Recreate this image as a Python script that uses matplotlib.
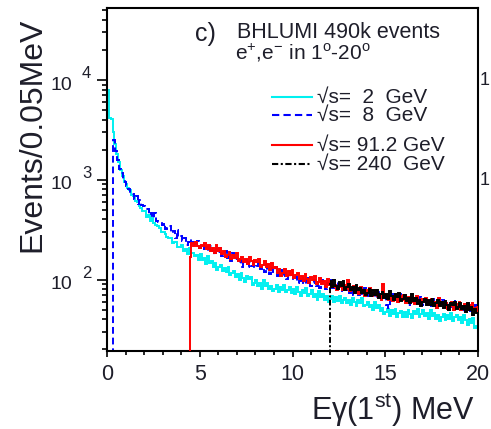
import numpy as np
import matplotlib
matplotlib.use("Agg")
import matplotlib.pyplot as plt
import matplotlib.transforms as mtransforms
from matplotlib.lines import Line2D
from matplotlib.ticker import MultipleLocator, LogLocator, NullFormatter, FixedLocator

plt.rcParams['font.family'] = ['Liberation Sans', 'DejaVu Sans']
plt.rcParams['mathtext.fontset'] = 'custom'
plt.rcParams['mathtext.rm'] = 'Liberation Sans'
plt.rcParams['mathtext.it'] = 'Liberation Sans:italic'
plt.rcParams['mathtext.bf'] = 'Liberation Sans:bold'

# ---------------- data (histograms, 0.1 MeV bins) ----------------
bin_width = 0.1

cyan_start = 0.0   # sqrt(s) = 2 GeV
cyan_counts = [
    7900, 4200, 4100, 3000, 2300, 1800, 1500, 1250, 1080, 960,
    910, 830, 795, 705, 690, 615, 600, 545, 520, 482,
    490, 425, 440, 385, 412, 366, 355, 345, 330, 300,
    300, 285, 265, 262, 258, 232, 240, 236, 212, 214,
    224, 192, 204, 180, 206, 184, 183, 171, 178, 158,
    180, 157, 164, 144, 172, 148, 152, 133, 145, 124,
    132, 140, 121, 130, 119, 133, 111, 117, 122, 105,
    113, 100, 117, 104, 94, 108, 101, 107, 89, 93,
    99, 86, 92, 81, 100, 86, 92, 80, 87, 76,
    81, 88, 75, 85, 78, 88, 75, 79, 85, 73,
    80, 71, 84, 75, 69, 79, 74, 82, 68, 72,
    78, 67, 72, 63, 77, 67, 71, 62, 68, 60,
    64, 69, 60, 67, 61, 69, 58, 62, 66, 58,
    63, 56, 66, 59, 54, 62, 58, 65, 54, 56,
    60, 53, 56, 49, 60, 52, 55, 48, 52, 45,
    47, 51, 43, 49, 45, 51, 42, 46, 48, 42,
    47, 42, 50, 45, 41, 48, 45, 51, 42, 45,
    49, 43, 46, 40, 49, 43, 46, 40, 44, 38,
    42, 45, 39, 44, 40, 46, 38, 42, 44, 39,
    42, 37, 44, 39, 35, 40, 37, 41, 33, 34,
]

blue_start = 0.35  # sqrt(s) = 8 GeV
blue_counts = [
    2500, 1930, 1570, 1290, 1170, 1010, 960, 860, 810, 730,
    720, 640, 680, 575, 620, 560, 545, 510, 515, 445,
    465, 410, 460, 390, 376, 380, 350, 372, 318, 325,
    342, 293, 305, 262, 310, 268, 270, 242, 261, 223,
    238, 254, 215, 238, 217, 242, 205, 216, 228, 197,
    213, 188, 218, 195, 175, 201, 189, 208, 172, 178,
    194, 166, 178, 153, 186, 160, 165, 146, 157, 135,
    146, 157, 135, 150, 138, 156, 130, 138, 146, 127,
    134, 118, 139, 124, 113, 129, 119, 134, 108, 116,
    124, 108, 115, 102, 123, 106, 110, 98, 107, 93,
    97, 105, 90, 100, 91, 104, 87, 93, 98, 87,
    94, 83, 98, 88, 80, 93, 88, 98, 82, 85,
    92, 80, 85, 75, 91, 79, 83, 73, 80, 70,
    76, 82, 70, 79, 72, 82, 69, 74, 77, 68,
    74, 65, 78, 69, 64, 74, 68, 56, 52, 66,
    71, 62, 67, 59, 72, 62, 66, 58, 64, 56,
    61, 66, 57, 64, 59, 67, 56, 60, 64, 56,
    61, 54, 64, 57, 52, 61, 57, 63, 53, 56,
    60, 53, 57, 50, 61, 53, 57, 49, 54, 47,
    52, 56, 48, 54, 49, 55, 47,
]

red_start = 4.45   # sqrt(s) = 91.2 GeV
red_counts = [
    170, 232, 215, 240, 218, 206, 224, 218, 232, 204,
    221, 195, 209, 184, 222, 194, 205, 179, 195, 168,
    175, 189, 162, 178, 165, 184, 154, 162, 170, 150,
    162, 143, 168, 152, 139, 158, 149, 162, 135, 141,
    152, 132, 142, 125, 148, 129, 132, 116, 126, 109,
    116, 126, 108, 121, 110, 124, 104, 112, 117, 101,
    108, 96, 113, 101, 92, 105, 100, 109, 91, 95,
    103, 90, 96, 85, 102, 89, 94, 84, 89, 79,
    84, 91, 78, 88, 81, 100, 76, 81, 86, 76,
    81, 72, 85, 76, 69, 79, 75, 82, 69, 72,
    78, 68, 72, 63, 90, 68, 72, 63, 69, 61,
    65, 71, 60, 68, 62, 70, 58, 63, 67, 59,
    65, 57, 68, 61, 55, 64, 60, 66, 56, 59,
    64, 56, 60, 52, 65, 57, 60, 53, 58, 51,
    54, 59, 50, 57, 52, 59, 50, 54, 57, 50,
    55, 49, 58, 52, 47, 53,
]

black_start = 12.0  # sqrt(s) = 240 GeV
black_counts = [
    97, 84, 98, 87, 81, 94, 86, 96, 79, 85,
    90, 78, 84, 74, 89, 78, 83, 73, 79, 70,
    74, 80, 69, 78, 70, 79, 66, 71, 75, 66,
    72, 64, 76, 68, 62, 72, 67, 73, 61, 64,
    70, 61, 66, 58, 71, 61, 66, 57, 62, 54,
    59, 64, 55, 62, 56, 64, 54, 58, 62, 54,
    59, 52, 61, 55, 50, 58, 55, 60, 51, 53,
    58, 51, 54, 47, 58, 50, 53, 44, 51, 46,
]

labels = ["\u221as=  2  GeV", "\u221as=  8  GeV", "\u221as= 91.2 GeV", "\u221as= 240  GeV"]
x_ticks = [0, 5, 10, 15, 20]
y_decades = [2, 3, 4]

# ---------------- figure ----------------
W, H = 491, 429
fig = plt.figure(figsize=(W / 100, H / 100), dpi=100)
ax = fig.add_axes([107 / W, 1 - 351 / H, 371 / W, 343 / H])
TXT = '#1e1e2a'

series = [
    (cyan_start, cyan_counts, '#00f0f0', '-', 1),
    (blue_start, blue_counts, '#0000ff', (0, (3.5, 2)), 2),
    (red_start, red_counts, '#ff0000', '-', 3),
    (black_start, black_counts, '#000000', (0, (3, 1.2, 1, 1.2)), 4),
]
for start, counts, col, ls, z in series:
    edges = start + bin_width * np.arange(len(counts) + 1)
    if col == '#000000':
        # dense black histogram looks solid; its leading edge is dash-dot
        ax.stairs(counts, edges, baseline=None, color=col, lw=1.4, zorder=z)
        ax.vlines(start, 1, counts[0], colors=col, lw=1.4, linestyles=[ls], zorder=z)
    else:
        ax.stairs(counts, edges, baseline=1, color=col, lw=1.4, linestyle=ls, zorder=z)

ax.set_yscale('log')
ax.set_xlim(0, 20)
ax.set_ylim(19.2, 52700)

ax.set_xticks(x_ticks)
ax.set_xticklabels([str(t) for t in x_ticks])
ax.xaxis.set_minor_locator(MultipleLocator(1))
ax.tick_params(axis='x', which='major', direction='out', length=4.5, width=1.2,
               labelsize=15.5, pad=5, colors='black', labelcolor=TXT)
ax.tick_params(axis='x', which='minor', direction='out', length=3, width=1.2)

ax.yaxis.set_major_locator(FixedLocator([10.0 ** d for d in y_decades]))
ax.yaxis.set_minor_locator(LogLocator(base=10, subs=np.arange(2, 10)))
ax.yaxis.set_major_formatter(NullFormatter())
ax.yaxis.set_minor_formatter(NullFormatter())
ax.tick_params(axis='y', which='major', direction='out', length=7, width=1.2)
ax.tick_params(axis='y', which='minor', direction='out', length=3.6, width=1.2)
for s in ax.spines.values():
    s.set_linewidth(1.5)

# y tick labels: "10" with raised exponent
tr = mtransforms.blended_transform_factory(fig.transFigure, ax.transData)
tr_low = mtransforms.offset_copy(tr, fig=fig, x=0, y=-9.5 * 0.72, units='points')
tr_high = mtransforms.offset_copy(tr, fig=fig, x=0, y=2 * 0.72, units='points')
for d in y_decades:
    fig.text(72 / W, 10.0 ** d, "10", transform=tr_low, ha='right', va='baseline',
             fontsize=14, color=TXT)
    fig.text(82 / W, 10.0 ** d, str(d), transform=tr_high, ha='left', va='baseline',
             fontsize=12, color=TXT)
# cut-off labels of neighbouring panel on the right
tr_r = mtransforms.offset_copy(tr, fig=fig, x=0, y=-5 * 0.72, units='points')
for d in [3, 4]:
    fig.text(480 / W, 10.0 ** d, "1", transform=tr_r, ha='left', va='baseline',
             fontsize=13, color=TXT)

# axis titles
fig.text(32 / W, 1 - 135 / H, "Events/0.05MeV", rotation=90, ha='center', va='center',
         fontsize=23, color=TXT)
fig.text(475 / W, 1 - 420 / H, "E\u03b3(1$^{\\rm st}$) MeV", ha='right', va='baseline',
         fontsize=22, color=TXT)

# annotation
fig.text(195 / W, 1 - 41 / H, "c)", ha='left', va='baseline', fontsize=18, color=TXT)
fig.text(237 / W, 1 - 38 / H, "BHLUMI 490k events", ha='left', va='baseline',
         fontsize=15.5, color=TXT)
fig.text(235 / W, 1 - 60 / H, "e$^{+}$,e$^{-}$ in 1$^{\\rm o}$-20$^{\\rm o}$", ha='left',
         va='baseline', fontsize=15, color=TXT)

# legend (manual)
leg_rows = [97, 115, 145, 164]
for (start, counts, col, ls, z), lab, yy in zip(series, labels, leg_rows):
    fig.add_artist(Line2D([272 / W, 312 / W], [1 - yy / H, 1 - yy / H], color=col,
                          lw=1.5, linestyle=ls, transform=fig.transFigure))
    fig.text(317 / W, 1 - (yy + 6) / H, lab, ha='left', va='baseline', fontsize=15,
             color=TXT)

fig.savefig("out.png", dpi=100)
